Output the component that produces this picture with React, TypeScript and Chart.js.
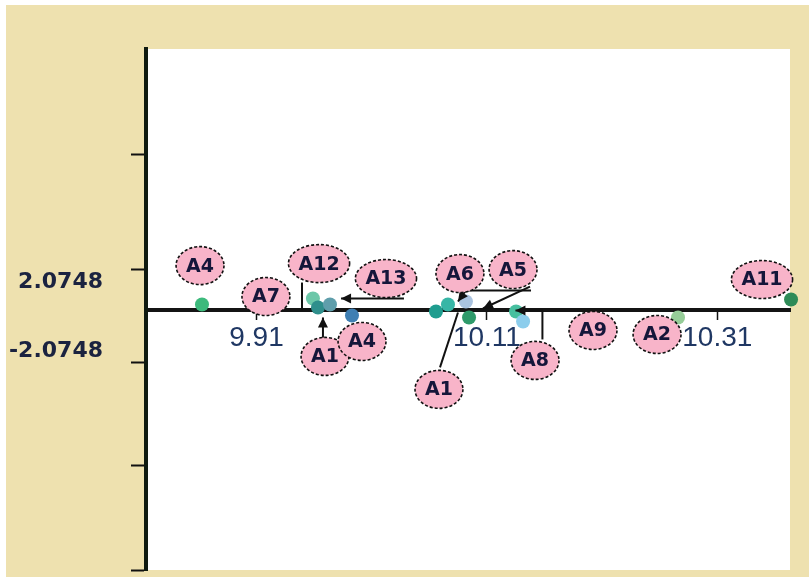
import React, { useEffect, useRef } from 'react';
import { Chart, registerables } from 'chart.js';

Chart.register(...registerables);

// ---- data ----
const xValues = [9.8627, 9.959, 9.9634, 9.9738, 9.9929, 10.0658, 10.0762, 10.0918, 10.0945, 10.1353, 10.1414, 10.2759, 10.374];
const yValues = [0.06, 0.12, 0.03, 0.06, -0.05, -0.01, 0.06, 0.09, -0.07, -0.01, -0.11, -0.07, 0.11];
const pointColors = ['#3dba7c', '#6cc7a9', '#2f8f8c', '#5f9eab', '#3f7fb3', '#1f9d8f', '#37b6a6', '#aac3e0', '#2e9a6a', '#47bf9f', '#8ccdec', '#96cd98', '#2e8b57'];

const xMin = 9.8141;
const xMax = 10.3731;
const yMin = -2.6;
const yMax = 2.62;

const xTickValues = [9.91, 10.11, 10.31];
const xTickLabels = ['9.91', '10.11', '10.31'];
const yTickMarkValues = [1.56, 0.41, -0.52, -1.55, -2.6];
const yLabelValues = [0.28, -0.41];
const yLabelTexts = ['2.0748', '-2.0748'];

// point tags (ellipse labels), placed in data coordinates
const tagNames = ['A4', 'A7', 'A12', 'A13', 'A1', 'A4', 'A6', 'A5', 'A1', 'A8', 'A9', 'A2', 'A11'];
const tagX = [9.861, 9.9182, 9.9643, 10.0224, 9.9695, 10.0016, 10.0866, 10.1327, 10.0684, 10.1518, 10.2021, 10.2577, 10.3488];
const tagY = [0.45, 0.14, 0.47, 0.32, -0.46, -0.31, 0.37, 0.41, -0.79, -0.5, -0.2, -0.24, 0.31];

// connector segments (data coordinates)
const linkFromX = [9.9495, 10.038, 9.9677, 10.1483, 10.0918, 10.1474, 10.0693, 10.1582, 10.1582];
const linkFromY = [0.28, 0.12, -0.28, 0.2, 0.2, 0.24, -0.57, -0.29, 0.0];
const linkToX = [9.9495, 9.9834, 9.9677, 10.0918, 10.0849, 10.1066, 10.0849, 10.1582, 10.1348];
const linkToY = [0.0, 0.12, -0.07, 0.2, 0.09, 0.02, -0.02, 0.0, 0.0];
const linkArrow = [false, true, true, false, true, true, false, false, true];

const BEIGE = '#eee1af';

const tagPlugin = {
  id: 'tagPlugin',
  beforeDraw(chart: any) {
    const { ctx, chartArea: a } = chart;
    ctx.save();
    ctx.fillStyle = '#ffffff';
    ctx.fillRect(a.left, a.top, a.right - a.left, a.bottom - a.top);
    ctx.restore();
  },
  afterDatasetsDraw(chart: any) {
    const { ctx } = chart;
    const xs = chart.scales.x;
    const ys = chart.scales.y;
    ctx.save();
    // connectors
    ctx.strokeStyle = '#111111';
    ctx.fillStyle = '#111111';
    ctx.lineWidth = 2;
    for (let i = 0; i < linkFromX.length; i++) {
      const x1 = xs.getPixelForValue(linkFromX[i]);
      const y1 = ys.getPixelForValue(linkFromY[i]);
      const x2 = xs.getPixelForValue(linkToX[i]);
      const y2 = ys.getPixelForValue(linkToY[i]);
      ctx.beginPath();
      ctx.moveTo(x1, y1);
      ctx.lineTo(x2, y2);
      ctx.stroke();
      if (linkArrow[i]) {
        const ang = Math.atan2(y2 - y1, x2 - x1);
        const len = 10;
        const w = 5;
        ctx.beginPath();
        ctx.moveTo(x2, y2);
        ctx.lineTo(x2 - len * Math.cos(ang) + w * Math.sin(ang), y2 - len * Math.sin(ang) - w * Math.cos(ang));
        ctx.lineTo(x2 - len * Math.cos(ang) - w * Math.sin(ang), y2 - len * Math.sin(ang) + w * Math.cos(ang));
        ctx.closePath();
        ctx.fill();
      }
    }
    // ellipses
    ctx.font = 'bold 19px "DejaVu Sans"';
    ctx.textAlign = 'center';
    ctx.textBaseline = 'middle';
    for (let i = 0; i < tagNames.length; i++) {
      const cx = xs.getPixelForValue(tagX[i]);
      const cy = ys.getPixelForValue(tagY[i]);
      const tw = ctx.measureText(tagNames[i]).width;
      const rx = tw / 2 + 10;
      const ry = 19;
      ctx.beginPath();
      ctx.ellipse(cx, cy, rx, ry, 0, 0, Math.PI * 2);
      ctx.fillStyle = '#f8b4c9';
      ctx.fill();
      ctx.setLineDash([3, 2]);
      ctx.lineWidth = 1.6;
      ctx.strokeStyle = '#111111';
      ctx.stroke();
      ctx.setLineDash([]);
      ctx.fillStyle = '#15163a';
      ctx.fillText(tagNames[i], cx, cy + 1);
    }
    ctx.restore();
  },
};

export default function App() {
  const ref = useRef<HTMLCanvasElement | null>(null);
  useEffect(() => {
    if (!ref.current) return;
    const points = xValues.map((x, i) => ({ x, y: yValues[i] }));
    const chart = new Chart(ref.current, {
      type: 'scatter',
      data: {
        datasets: [
          {
            data: points,
            pointRadius: 7,
            pointHoverRadius: 7,
            pointBackgroundColor: pointColors,
            pointBorderWidth: 0,
            borderWidth: 0,
            clip: false as any,
          },
        ],
      },
      options: {
        responsive: false,
        animation: false,
        events: [],
        layout: { padding: { left: 0, top: 44, right: 19, bottom: 6 } },
        plugins: { legend: { display: false }, tooltip: { enabled: false } },
        scales: {
          x: {
            type: 'linear',
            position: { y: 0 } as any,
            min: xMin,
            max: xMax,
            afterBuildTicks: (s: any) => {
              s.ticks = xTickValues.map((v) => ({ value: v }));
            },
            afterFit: (s: any) => {
              s.height = 0;
              s.paddingLeft = 0;
              s.paddingRight = 0;
            },
            grid: { drawOnChartArea: false, tickLength: 8, tickColor: '#111111', tickWidth: 1.5 },
            border: { display: true, color: '#141414', width: 4 },
            ticks: {
              autoSkip: false,
              maxRotation: 0,
              padding: 3,
              color: '#1f3763',
              font: { family: '"Liberation Sans"', size: 28 },
              callback: (v: any) => {
                const idx = xTickValues.findIndex((t) => Math.abs(t - Number(v)) < 1e-6);
                return idx >= 0 ? xTickLabels[idx] : '';
              },
            },
          },
          y: {
            type: 'linear',
            position: 'left',
            min: yMin,
            max: yMax,
            afterBuildTicks: (s: any) => {
              s.ticks = [...yTickMarkValues, ...yLabelValues].sort((a, b) => a - b).map((v) => ({ value: v }));
            },
            afterFit: (s: any) => {
              s.width = 140;
              s.paddingTop = 0;
              s.paddingBottom = 0;
            },
            grid: {
              drawOnChartArea: false,
              tickLength: 15,
              tickWidth: 2,
              tickColor: (c: any) =>
                c.tick && yLabelValues.some((t) => Math.abs(t - c.tick.value) < 1e-6) ? 'rgba(0,0,0,0)' : '#111111',
            },
            border: { display: true, color: '#0f1a10', width: 4 },
            ticks: {
              autoSkip: false,
              padding: 28,
              color: '#1b2340',
              font: { family: '"DejaVu Sans"', size: 22, weight: 'bold' },
              callback: (v: any) => {
                const idx = yLabelValues.findIndex((t) => Math.abs(t - Number(v)) < 1e-6);
                return idx >= 0 ? yLabelTexts[idx] : '';
              },
            },
          },
        },
      },
      plugins: [tagPlugin],
    });
    return () => chart.destroy();
  }, []);

  return (
    <div style={{ position: 'absolute', left: 0, top: 0, width: 809, height: 577, background: '#ffffff', overflow: 'hidden' }}>
      <div style={{ position: 'absolute', left: 6, top: 5, width: 803, height: 572, background: BEIGE }}>
        <canvas ref={ref} width={803} height={572} style={{ display: 'block', width: 803, height: 572 }} />
      </div>
    </div>
  );
}
